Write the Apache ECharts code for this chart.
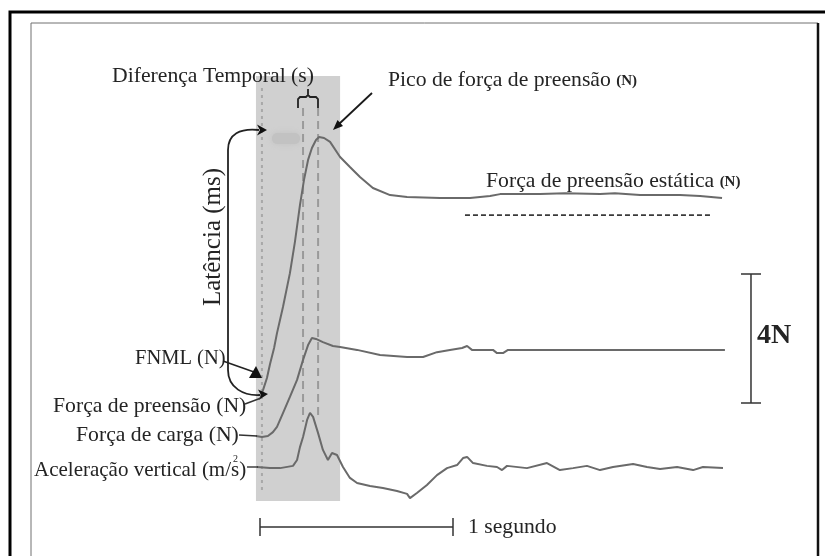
<!DOCTYPE html>
<html><head><meta charset="utf-8">
<script src="https://cdn.jsdelivr.net/npm/echarts@6/dist/echarts.min.js"></script>
<style>html,body{margin:0;padding:0;background:#fff}#c{width:825px;height:556px}</style>
</head><body><div id="c"></div>
<script>
// ---------- DATA (time in s, forces in N, acceleration in m/s²) ----------
const gripTime  = [0.005,0.016,0.036,0.052,0.073,0.088,0.119,0.155,0.181,0.207,0.228,0.249,0.269,0.290,0.306,0.332,0.363,0.415,0.466,0.518,0.585,0.674,0.762,0.933,1.088,1.192,1.244,1.451,1.580,1.762,1.839,1.969,2.176,2.280,2.394];
const gripForce = [0.00,0.19,0.56,0.99,1.49,1.95,2.76,3.81,4.78,5.92,6.70,7.32,7.69,7.94,8.03,8.00,7.88,7.41,7.10,6.79,6.45,6.23,6.17,6.14,6.14,6.20,6.26,6.26,6.29,6.26,6.29,6.23,6.23,6.20,6.14];
const loadTime  = [-0.021,0.010,0.041,0.067,0.088,0.119,0.155,0.192,0.223,0.249,0.269,0.290,0.326,0.378,0.415,0.503,0.622,0.762,0.845,0.917,0.984,1.047,1.073,1.098,1.207,1.228,1.259,1.285,1.600,2.000,2.409];
const loadForce = [0,-0.03,0,0.12,0.28,0.71,1.21,1.74,2.36,2.82,3.04,3.01,2.91,2.79,2.76,2.67,2.51,2.45,2.45,2.60,2.67,2.73,2.79,2.67,2.67,2.57,2.57,2.67,2.67,2.67,2.67];
const accTime   = [-0.016,0.052,0.104,0.171,0.192,0.207,0.223,0.244,0.259,0.275,0.301,0.326,0.352,0.373,0.399,0.430,0.466,0.503,0.570,0.637,0.710,0.762,0.777,0.813,0.865,0.917,0.969,1.021,1.052,1.073,1.104,1.176,1.228,1.254,1.280,1.383,1.487,1.554,1.622,1.694,1.762,1.829,1.933,2.005,2.073,2.161,2.244,2.295,2.399];
const accValue  = [0,-0.04,-0.04,0.04,0.25,0.71,1.07,1.68,1.93,1.79,1.21,0.61,0.25,0.50,0.43,0,-0.39,-0.57,-0.68,-0.75,-0.86,-0.96,-1.11,-0.93,-0.64,-0.29,-0.04,0.07,0.32,0.36,0.14,0.04,0,-0.11,0.04,-0.04,0.14,-0.11,-0.04,0.04,-0.11,0,0.11,0,-0.07,0,-0.11,0,-0.04];
const eventTimes = [0.010, 0.223, 0.301];      // onset, load-force peak, grip-force peak
const shadeSpan  = [-0.021, 0.415];            // shaded window (s)
const staticSpan = [1.062, 2.342];             // static grip force window (s)
const staticGripLevel = 5.61;                  // N
const timeBar  = [0, 1];                       // 1 segundo
const forceBar = [0, 4];                       // 4 N

// ---------- LAYOUT ----------
const W = 825, H = 556, GT = 23;
const X0 = 260, PX_S = 193, XMIN = -1.2, XMAX = 2.9;
const PX_N = 32.25, PX_A = 28;
const gripBase = 396, loadBase = 436, accBase = 467;
function rng(base, ppu){ return {min: -(H - base)/ppu, max: (base - GT)/ppu}; }
const zip = (a,b) => a.slice(0, Math.min(a.length,b.length)).map((v,i)=>[v,b[i]]);
const FONT = '"Liberation Serif", "DejaVu Serif", serif';
const FS = 21.7;
const TXT = '#242424';
const traceStyle = {color:'#6a6a6a', width:2};

const gL = X0 + XMIN*PX_S, gR = W - (X0 + XMAX*PX_S);
const yAxes = [rng(gripBase,PX_N), rng(loadBase,PX_N), rng(accBase,PX_A)].map(r => ({
  type:'value', min:r.min, max:r.max, show:false, scale:true, splitLine:{show:false}
}));

const eventLineLayout = [
  {y1:88, y2:492, dash:[3,4], color:'#a8a8a8', width:2},
  {y1:108, y2:422, dash:[8,5], color:'#9a9a9a', width:2},
  {y1:108, y2:420, dash:[8,5], color:'#9a9a9a', width:2}
];

const mctx = document.createElement('canvas').getContext('2d');
function tw(text, font){ mctx.font = font; return mctx.measureText(text).width; }

function t(x,y,text,size,extra){
  return Object.assign({type:'text', x:x, y:y, z:100, style:Object.assign({
    text:text, font: size + 'px ' + FONT, fill:TXT, textAlign:'left', textVerticalAlign:'middle'}, extra||{})});
}
function ln(x1,y1,x2,y2,w,c){ return {type:'line', z:100, shape:{x1,y1,x2,y2}, style:{stroke:c||'#222', lineWidth:w||1.5}}; }
function poly(pts,c){ return {type:'polygon', z:100, shape:{points:pts}, style:{fill:c||'#111'}}; }

const picoText = 'Pico de força de preensão ';
const estText = 'Força de preensão estática ';
const picoX = 388, estX = 486;
const picoNX = picoX + tw(picoText, FS + 'px ' + FONT);
const estNX = estX + tw(estText, FS + 'px ' + FONT);
const accText = 'Aceleração vertical (m/s)';
const accX = 34, accFS = 21;
const supX = accX + tw('Aceleração vertical (m/', accFS + 'px ' + FONT) + 2;

const chart = echarts.init(document.getElementById('c'), null, {renderer:'canvas'});
chart.setOption({
  backgroundColor:'#fff',
  animation:false,
  grid:{left:gL, right:gR, top:GT, bottom:0, containLabel:false},
  xAxis:{type:'value', min:XMIN, max:XMAX, show:false, splitLine:{show:false}},
  yAxis: yAxes,
  series:[
    { type:'custom', z:1, clip:false, yAxisIndex:0, data:[shadeSpan],
      renderItem:(p,api)=>{
        const a = api.coord([api.value(0),0])[0], b = api.coord([api.value(1),0])[0];
        return {type:'rect', shape:{x:a, y:76, width:b-a, height:501-76}, style:{fill:'#d0d0d0'}};
      }},
    { type:'custom', z:2, clip:false, yAxisIndex:0, data:eventTimes.map(v=>[v,0]),
      renderItem:(p,api)=>{
        const x = api.coord([api.value(0),0])[0], L = eventLineLayout[p.dataIndex];
        return {type:'line', shape:{x1:x,y1:L.y1,x2:x,y2:L.y2}, style:{stroke:L.color, lineWidth:L.width, lineDash:L.dash}};
      }},
    { type:'line', z:3, yAxisIndex:0, data:zip(gripTime,gripForce), showSymbol:false, symbol:'none', lineStyle:traceStyle },
    { type:'line', z:3, yAxisIndex:1, data:zip(loadTime,loadForce), showSymbol:false, symbol:'none', lineStyle:traceStyle },
    { type:'line', z:3, yAxisIndex:2, data:zip(accTime,accValue), showSymbol:false, symbol:'none', lineStyle:traceStyle },
    { type:'line', z:3, yAxisIndex:0, data:[[staticSpan[0],staticGripLevel],[staticSpan[1],staticGripLevel]],
      showSymbol:false, symbol:'none', lineStyle:{color:'#3a3a3a', width:1.6, type:[5,3]} },
    { type:'custom', z:4, clip:false, yAxisIndex:0, data:[timeBar],
      renderItem:(p,api)=>{
        const a = api.coord([api.value(0),0])[0], b = api.coord([api.value(1),0])[0], y = 527;
        const st = {stroke:'#333', lineWidth:1.5};
        return {type:'group', children:[
          {type:'line', shape:{x1:a,y1:y,x2:b,y2:y}, style:st},
          {type:'line', shape:{x1:a,y1:y-9,x2:a,y2:y+9}, style:st},
          {type:'line', shape:{x1:b,y1:y-9,x2:b,y2:y+9}, style:st}]};
      }},
    { type:'custom', z:4, clip:false, yAxisIndex:0, data:[[2.544, forceBar[1]-forceBar[0]]],
      renderItem:(p,api)=>{
        const x = api.coord([api.value(0),0])[0], len = api.size([0, api.value(1)])[1];
        const yb = 403, yt = yb - len, st = {stroke:'#333', lineWidth:1.5};
        return {type:'group', children:[
          {type:'line', shape:{x1:x,y1:yt,x2:x,y2:yb}, style:st},
          {type:'line', shape:{x1:x-10,y1:yt,x2:x+10,y2:yt}, style:st},
          {type:'line', shape:{x1:x-10,y1:yb,x2:x+10,y2:yb}, style:st}]};
      }}
  ],
  graphic:{elements:[
    // frames
    {type:'rect', z:90, shape:{x:10, y:12, width:830, height:600}, style:{fill:'none', stroke:'#000', lineWidth:3}},
    {type:'rect', z:90, shape:{x:31, y:23, width:787, height:600}, style:{fill:'none', stroke:'#707070', lineWidth:1}},
    ln(818,23,818,560,2.5,'#111'),
    // faint smudge near peak
    {type:'rect', z:2, shape:{x:272, y:133, width:28, height:11, r:5}, style:{fill:'#c2c2c2', shadowBlur:6, shadowColor:'#c2c2c2'}},
    // texts
    t(112,76,'Diferença Temporal (s)',FS),
    t(picoX,80,picoText,FS),
    t(picoNX,81,'(N)',15,{font:'bold 15px '+FONT}),
    t(estX,181,estText,FS),
    t(estNX,182,'(N)',15,{font:'bold 15px '+FONT}),
    {type:'text', z:100, x:213, y:237, rotation:Math.PI/2,
      style:{text:'Latência (ms)', font:'25px '+FONT, fill:TXT, textAlign:'center', textVerticalAlign:'middle'}},
    t(135,359,'FNML (N)',20.5),
    t(53,406,'Força de preensão (N)',FS),
    t(76,435,'Força de carga (N)',FS),
    t(accX,470,accText,accFS),
    t(supX,459,'2',10),
    t(468,527,'1 segundo',FS),
    t(757,336,'4N',28,{font:'bold 28px '+FONT}),
    // peak arrow
    ln(372,93,339,124,1.8,'#1a1a1a'),
    poly([[333,130],[343,126],[337.5,120]], '#111'),
    // brace
    {type:'polyline', z:100, shape:{points:[[298,108],[298,99],[300,97],[306,97],[308,95],[308,89],[308,95],[310,97],[316,97],[318,99],[318,108]]},
      style:{stroke:'#222', lineWidth:1.8, fill:null}},
    // latency bracket
    {type:'bezierCurve', z:100, shape:{x1:259,y1:130,cpx1:240,cpy1:128,cpx2:228,cpy2:134,x2:228,y2:150}, style:{stroke:'#222', lineWidth:1.8, fill:null}},
    ln(228,150,228,370,1.8,'#222'),
    {type:'bezierCurve', z:100, shape:{x1:228,y1:370,cpx1:228,cpy1:388,cpx2:244,cpy2:396,x2:260,y2:395}, style:{stroke:'#222', lineWidth:1.8, fill:null}},
    poly([[267,130],[257,124.5],[260,130],[257,135.5]], '#111'),
    poly([[268,394],[258,389.5],[261,395],[258.5,400]], '#111'),
    // FNML arrow
    ln(223,361,254,372,1.6,'#222'),
    poly([[249,378],[262,378],[256,366]], '#111'),
    // label connectors
    ln(245,404,261,398,1.4,'#333'),
    ln(239,435,257,436,1.4,'#333'),
    ln(247,467,258,467,1.4,'#333')
  ]}
});
</script></body></html>
